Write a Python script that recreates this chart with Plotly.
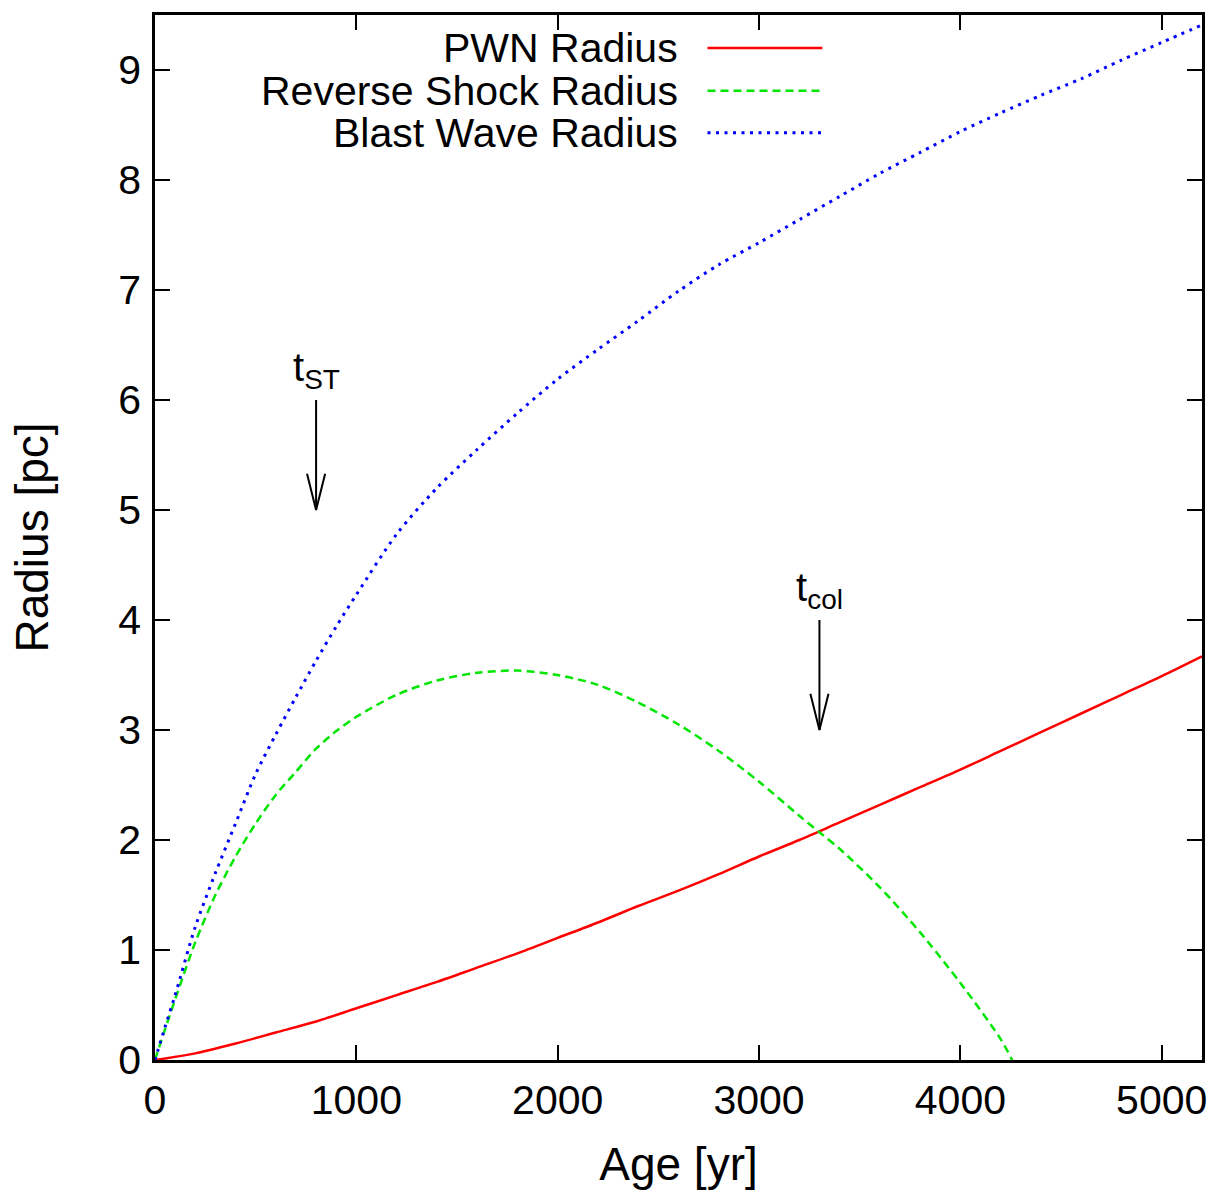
import plotly.graph_objects as go

# Age grid [yr] and radii [pc]
age_pwn = [0, 200, 400, 600, 800, 1000, 1200, 1400, 1600, 1800, 2000, 2200, 2400,
           2600, 2800, 3000, 3200, 3400, 3600, 3800, 4000, 4200, 4400, 4600, 4800,
           5000, 5200]
r_pwn = [0.0, 0.06, 0.15, 0.25, 0.35, 0.47, 0.59, 0.71, 0.84, 0.97, 1.11, 1.25, 1.40,
         1.54, 1.69, 1.85, 2.00, 2.16, 2.32, 2.48, 2.64, 2.81, 2.98, 3.15, 3.32,
         3.49, 3.67]

age_rs = [0, 50, 100, 200, 300, 400, 500, 600, 700, 800, 900, 1000, 1200, 1400, 1600,
          1800, 2000, 2200, 2400, 2600, 2800, 3000, 3200, 3300, 3400, 3600, 3800,
          4000, 4200, 4257]
r_rs = [0.0, 0.28, 0.55, 1.07, 1.50, 1.85, 2.15, 2.41, 2.62, 2.83, 2.99, 3.12, 3.32,
        3.45, 3.52, 3.54, 3.50, 3.41, 3.25, 3.05, 2.81, 2.53, 2.22, 2.07, 1.92, 1.57,
        1.16, 0.70, 0.19, 0.0]

age_bw = [0, 50, 100, 200, 300, 400, 500, 600, 700, 800, 900, 1000, 1200, 1400, 1600,
          1800, 2000, 2200, 2400, 2600, 2800, 3000, 3200, 3400, 3600, 3800, 4000,
          4200, 4400, 4600, 4800, 5000, 5200]
r_bw = [0.0, 0.30, 0.59, 1.21, 1.70, 2.15, 2.60, 2.96, 3.30, 3.63, 3.94, 4.23, 4.78,
        5.20, 5.55, 5.88, 6.19, 6.46, 6.72, 6.99, 7.23, 7.43, 7.64, 7.85, 8.06, 8.25,
        8.44, 8.61, 8.77, 8.92, 9.09, 9.25, 9.41]

series_names = ["PWN Radius", "Reverse Shock Radius", "Blast Wave Radius"]
series_colors = ["#ff0000", "#00e600", "#0000ff"]
series_dash = ["solid", "8px,5px", "3px,5.5px"]
series_width = [2.5, 2.5, 3]

# Characteristic times: Sedov-Taylor onset and reverse-shock collision
marker_ages = [800, 3300]
marker_labels = ["t<sub>ST</sub>", "t<sub>col</sub>"]
marker_top = [6.0, 4.0]
marker_tip = [5.0, 3.0]

x_ticks = [0, 1000, 2000, 3000, 4000, 5000]
y_ticks = [0, 1, 2, 3, 4, 5, 6, 7, 8, 9]

FONT = "Liberation Sans, Arial, sans-serif"
HEAD_DX = 45     # half-width of arrow head in years
HEAD_DY = 0.33   # length of arrow head in pc

fig = go.Figure()

for ages, radii, name, color, dash, w in zip(
        [age_pwn, age_rs, age_bw], [r_pwn, r_rs, r_bw],
        series_names, series_colors, series_dash, series_width):
    fig.add_trace(go.Scatter(
        x=ages, y=radii, mode="lines", name=name, showlegend=False,
        line=dict(color=color, width=w, dash=dash, shape="spline", smoothing=0.8),
    ))

# Downward arrows with open heads marking the characteristic times
for t, top, tip, label in zip(marker_ages, marker_top, marker_tip, marker_labels):
    fig.add_trace(go.Scatter(
        x=[t, t], y=[top, tip], mode="lines", showlegend=False,
        line=dict(color="black", width=2), hoverinfo="skip",
    ))
    fig.add_trace(go.Scatter(
        x=[t - HEAD_DX, t, t + HEAD_DX], y=[tip + HEAD_DY, tip, tip + HEAD_DY],
        mode="lines", showlegend=False,
        line=dict(color="black", width=2), hoverinfo="skip",
    ))
    fig.add_annotation(
        x=t, y=top, text=label, showarrow=False, xanchor="center",
        yanchor="bottom", yshift=3, font=dict(family=FONT, size=40, color="black"),
    )

# Key: text on the left, line sample on the right
key_rows = [0.9685, 0.9275, 0.8874]
for yk, name, color, dash, w in zip(key_rows, series_names, series_colors,
                                    series_dash, series_width):
    fig.add_annotation(
        xref="paper", yref="paper", x=0.501, y=yk, text=name, showarrow=False,
        xanchor="right", yanchor="middle",
        font=dict(family=FONT, size=41, color="black"),
    )
    fig.add_shape(
        type="line", xref="paper", yref="paper", x0=0.5277, x1=0.6374, y0=yk, y1=yk,
        line=dict(color=color, width=w, dash=dash),
    )

axis_common = dict(
    showline=True, linecolor="black", linewidth=2.5, mirror="ticks",
    ticks="inside", ticklen=15, tickwidth=2, tickcolor="black",
    showgrid=False, zeroline=False,
    tickfont=dict(family=FONT, size=41, color="black"),
)

fig.update_xaxes(
    range=[0, 5200], tickvals=x_ticks, ticktext=[str(v) for v in x_ticks],
    ticklabelstandoff=2,
    title=dict(text="Age [yr]", font=dict(family=FONT, size=46, color="black"),
               standoff=26),
    **axis_common,
)
fig.update_yaxes(
    range=[0, 9.5], tickvals=y_ticks, ticktext=[str(v) for v in y_ticks],
    ticklabelstandoff=3,
    title=dict(text="Radius [pc]", font=dict(family=FONT, size=46, color="black"),
               standoff=56),
    **axis_common,
)

fig.update_layout(
    width=1219, height=1194,
    margin=dict(l=155, r=16, t=13, b=134),
    plot_bgcolor="white", paper_bgcolor="white",
    showlegend=False,
)

fig.write_html("out.html")
